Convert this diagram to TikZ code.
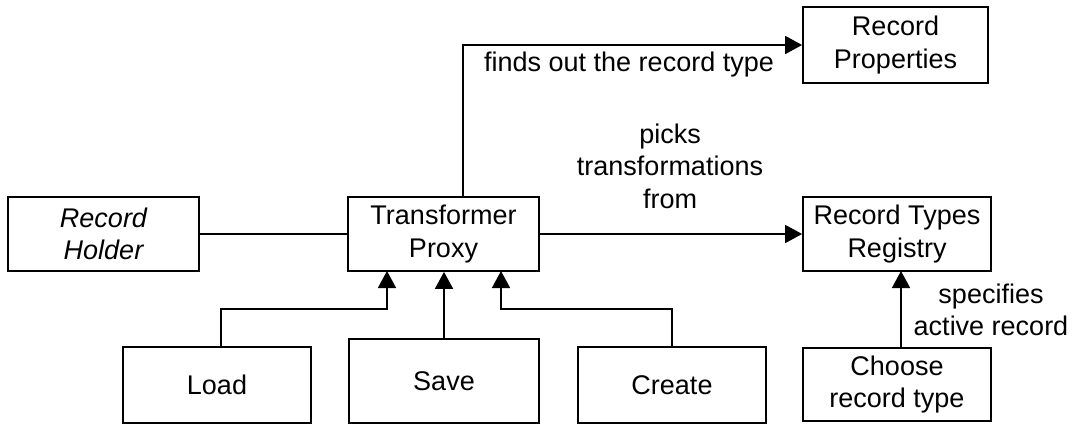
\documentclass[tikz,border=0pt]{standalone}
\usepackage{fontspec}
\setmainfont{Liberation Sans}
\usetikzlibrary{arrows.meta,calc}

\tikzset{
  block/.style={draw, line width=1.8pt, rectangle, align=center, inner sep=0pt,
                font=\fontsize{27}{32.5}\selectfont},
  link/.style={line width=1.8pt},
  flow/.style={line width=1.8pt, -{Triangle[length=17pt,width=18pt]}},
  note/.style={align=center, font=\fontsize{27}{32.5}\selectfont, inner sep=0pt}
}

\begin{document}
\begin{tikzpicture}[x=1pt,y=-1pt]
  \useasboundingbox (0,0) rectangle (1075,425);

  % boxes
  \node[block, minimum width=191pt, minimum height=74pt] (holder) at (103.5,234) {\itshape Record\\\itshape Holder};
  \node[block, minimum width=191pt, minimum height=74pt] (proxy) at (443.5,234) {Transformer\\Proxy};
  \node[block, minimum width=185pt, minimum height=76pt] (props) at (895.5,45) {Record\\Properties};
  \node[block, minimum width=188pt, minimum height=74pt] (registry) at (897,234) {Record Types\\Registry};
  \node[block, minimum width=188pt, minimum height=73pt] (choose) at (897,384.5) {Choose\\record type};
  \node[block, minimum width=188pt, minimum height=76pt] (load) at (217,385) {Load};
  \node[block, minimum width=190pt, minimum height=84pt] (save) at (444,381) {Save};
  \node[block, minimum width=188pt, minimum height=76pt] (create) at (672,385) {Create};

  % bend points
  \coordinate (loadbend) at (221,309);
  \coordinate (loadin) at (387,271);
  \coordinate (createbend) at (672,309);
  \coordinate (createin) at (501,271);
  \coordinate (propsout) at (463,197);
  \coordinate (propsbend) at (463,45);
  \coordinate (choosein) at (901,271);

  % connectors
  \draw[link] (holder.east) -- (proxy.west);
  \draw[flow] (proxy.east) -- (registry.west);
  \draw[flow] (propsout) -- (propsbend) -- (props.west);
  \draw[flow] (load.north -| loadbend) -- (loadbend) -- (loadbend -| loadin) -- (loadin);
  \draw[flow] (save.north) -- (save.north |- proxy.south);
  \draw[flow] (create.north) -- (createbend) -- (createbend -| createin) -- (createin);
  \draw[flow] (choose.north -| choosein) -- (choosein);

  % labels
  \node[note] (findslbl) at (629,65) {finds out the record type};
  \node[note] (pickslbl) at (670,166) {picks\\transformations\\from};
  \node[note] (speclbl) at (991,310) {specifies\\active record};
\end{tikzpicture}
\end{document}
